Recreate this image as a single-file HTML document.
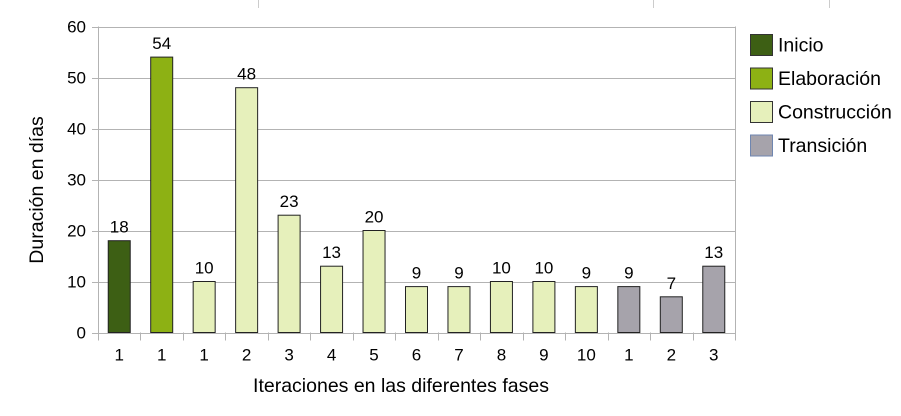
<!DOCTYPE html>
<html><head><meta charset="utf-8"><style>
body{margin:0;background:#fff;font-family:"Liberation Sans",sans-serif}
svg text{font-family:"Liberation Sans",sans-serif;fill:#000}
</style></head><body>
<svg id="chart" width="901" height="411" xmlns="http://www.w3.org/2000/svg">
<line x1="258.5" y1="0" x2="258.5" y2="8" stroke="#ccc"/>
<line x1="653.5" y1="0" x2="653.5" y2="8" stroke="#ccc"/>
<line x1="829.5" y1="0" x2="829.5" y2="8" stroke="#ccc"/>
<g id="grid"></g><g id="bars"></g><g id="axes"></g>
<text x="43" y="190" font-size="19.5" text-anchor="middle" transform="rotate(-90 43 190)">Duración en días</text>
<text x="401" y="392" font-size="19.5" text-anchor="middle">Iteraciones en las diferentes fases</text>
<g id="legend"></g>
</svg>
<script>
const categories=["1","1","1","2","3","4","5","6","7","8","9","10","1","2","3"];
const values=[18,54,10,48,23,13,20,9,9,10,10,9,9,7,13];
const phases=[0,1,2,2,2,2,2,2,2,2,2,2,3,3,3];
const phaseNames=["Inicio","Elaboración","Construcción","Transición"];
const phaseColors=["#3d5f14","#8db114","#e6f0bb","#a6a3ab"];
const yTicks=[0,10,20,30,40,50,60];
const NS="http://www.w3.org/2000/svg";
const L=98,R=735,T=26.5,B=332.5,ymax=60;
const y=v=>B-(B-T)*v/ymax;
const bw=(R-L)/categories.length;
const x=i=>L+bw*i;
function mk(tag,attrs,parent,txt){const e=document.createElementNS(NS,tag);for(const k in attrs)e.setAttribute(k,attrs[k]);if(txt!==undefined)e.textContent=txt;parent.appendChild(e);return e;}
const grid=document.getElementById('grid'),bars=document.getElementById('bars'),axes=document.getElementById('axes'),legend=document.getElementById('legend');
yTicks.forEach(t=>{
  const g=mk('line',{x1:L-6,x2:R,y1:Math.round(y(t))+0.5,y2:Math.round(y(t))+0.5,stroke:'#b3b3b3'},grid);
  
  
  const l=mk('text',{x:L-12,y:y(t)+6,'font-size':17,'text-anchor':'end'},axes,t);
  
  
});
mk('line',{x1:L+0.5,x2:L+0.5,y1:T,y2:B,stroke:'#b3b3b3'},axes);
mk('line',{x1:R+0.5,x2:R+0.5,y1:T,y2:B,stroke:'#b3b3b3'},axes);
for(let i=0;i<=categories.length;i++){
  const t=mk('line',{x1:Math.round(x(i))+0.5,x2:Math.round(x(i))+0.5,y1:B,y2:B+8,stroke:'#b3b3b3'},axes);
  
  
}
categories.forEach((c,i)=>{
  const cx=x(i)+bw/2,w=22;
  const r=mk('rect',{x:cx-w/2,y:y(values[i]),width:w,height:B-y(values[i]),fill:phaseColors[phases[i]],stroke:'#222','stroke-width':1},bars);
  
  
  const v=mk('text',{x:cx,y:y(values[i])-8,'font-size':17,'text-anchor':'middle'},bars,values[i]);
  
  
  const l=mk('text',{x:cx,y:B+28,'font-size':17,'text-anchor':'middle'},axes,c);
  
  
});
phaseNames.forEach((n,i)=>{
  const cy=45+i*33.5;
  const g=mk('g',{},legend);
  
  
  mk('rect',{x:750.5,y:cy-10.5,width:22,height:21,fill:phaseColors[i],stroke:i==3?'#6f86b0':'#333'},g);
  mk('text',{x:778,y:cy+6.5,'font-size':19.5},g,n);
});
</script>
</body></html>
